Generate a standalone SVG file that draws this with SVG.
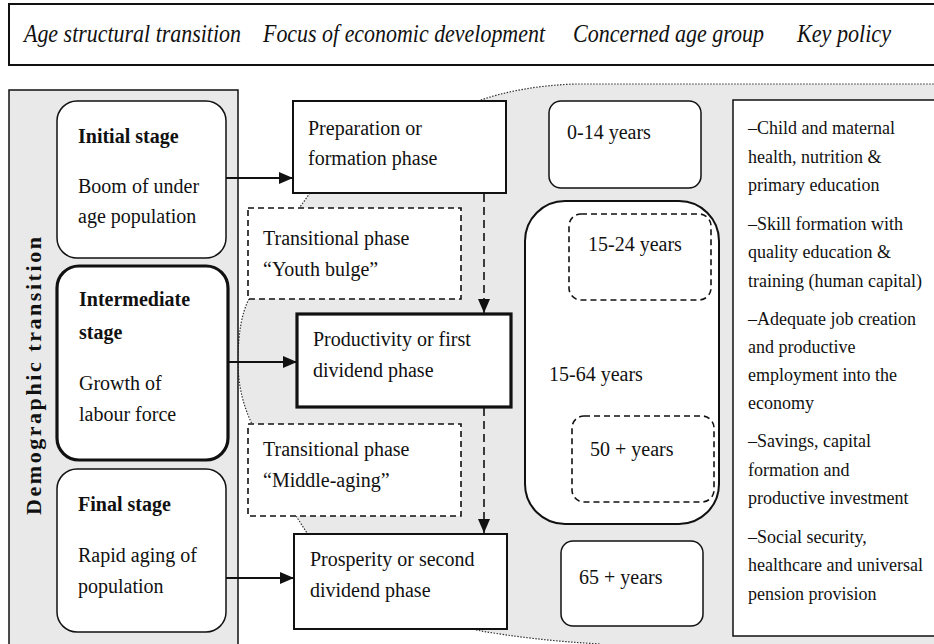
<svg xmlns="http://www.w3.org/2000/svg" width="934" height="644" viewBox="0 0 934 644">
<defs>
<marker id="ah" viewBox="0 0 14 12" refX="14" refY="6" markerWidth="14" markerHeight="12" markerUnits="userSpaceOnUse" orient="auto">
<path d="M0,0 L14,6 L0,12 Z" fill="#111"/>
</marker>
</defs>
<style>
text{font-family:"Liberation Serif","Times New Roman",serif;fill:#111;}
.hd{font-size:25px;font-style:italic;}
.t{font-size:20px;}
.b{font-size:20px;font-weight:bold;}
.v{font-size:22px;font-weight:bold;}
.p{font-size:18px;}
.box{fill:#fff;stroke:#111;stroke-width:2;}
.thin{fill:#fff;stroke:#111;stroke-width:1.5;}
.thick{fill:#fff;stroke:#111;stroke-width:3.2;}
.dash{fill:#fff;stroke:#111;stroke-width:1.6;stroke-dasharray:6 4;}
.dot{fill:none;stroke:#333;stroke-width:1.2;stroke-dasharray:1.5 1.5;}
.gray{fill:#e9e9e9;}
.conn{stroke:#111;stroke-width:2;fill:none;}
.dconn{stroke:#111;stroke-width:1.6;fill:none;stroke-dasharray:8 5;}
</style>

<!-- background shading -->
<g id="shading">
<path class="gray" d="M478,101 Q520,86 575,84 L934,84 L934,644 L600,644 Q530,640 476,630 L307,533 L296,516 L252,424 Q238,395 238,362 Q238,320 249,299 L300,207 L310,193 L478,193 Z"/>
<path class="dot" d="M478,101 Q520,86 575,84 L934,84"/>
<path class="dot" d="M476,630 Q530,640 600,644"/>
<path class="dot" d="M310,193 L300,207"/>
<path class="dot" d="M249,299 Q238,320 238,362 Q238,395 252,424"/>
<path class="dot" d="M296,516 L307,533"/>
</g>

<!-- header -->
<g id="header">
<rect x="9" y="4" width="940" height="61" fill="#fff" stroke="#111" stroke-width="2"/>
<text class="hd" x="24" y="42" textLength="217" lengthAdjust="spacingAndGlyphs">Age structural transition</text>
<text class="hd" x="263" y="42" textLength="282" lengthAdjust="spacingAndGlyphs">Focus of economic development</text>
<text class="hd" x="573" y="42" textLength="191" lengthAdjust="spacingAndGlyphs">Concerned age group</text>
<text class="hd" x="797" y="42" textLength="94" lengthAdjust="spacingAndGlyphs">Key policy</text>
</g>

<!-- left panel -->
<g id="panel">
<rect x="9" y="90" width="229" height="570" fill="#e9e9e9" stroke="#111" stroke-width="1.5"/>
<text class="v" transform="translate(41,376) rotate(-90)" text-anchor="middle" textLength="278" lengthAdjust="spacing">Demographic transition</text>
</g>

<g id="initial">
<rect class="thin" x="57" y="101" width="169" height="157" rx="20"/>
<text class="b" x="78" y="143">Initial stage</text>
<text class="t" x="78" y="193">Boom of under</text>
<text class="t" x="78" y="223">age population</text>
</g>
<g id="intermediate">
<rect class="thick" x="57" y="266" width="171" height="194" rx="22"/>
<text class="b" x="79" y="306">Intermediate</text>
<text class="b" x="79" y="339">stage</text>
<text class="t" x="79" y="390">Growth of</text>
<text class="t" x="79" y="421">labour force</text>
</g>
<g id="final">
<rect class="thin" x="57" y="469" width="169" height="163" rx="20"/>
<text class="b" x="78" y="511">Final stage</text>
<text class="t" x="78" y="562">Rapid aging of</text>
<text class="t" x="78" y="593">population</text>
</g>

<g id="preparation">
<rect class="box" x="293" y="101" width="213" height="92"/>
<text class="t" x="308" y="135">Preparation or</text>
<text class="t" x="308" y="165">formation phase</text>
</g>
<g id="youth">
<rect class="dash" x="248" y="208" width="213" height="91"/>
<text class="t" x="263" y="245">Transitional phase</text>
<text class="t" x="263" y="276">“Youth bulge”</text>
</g>
<g id="productivity">
<rect class="thick" x="297" y="314" width="214" height="93"/>
<text class="t" x="313" y="346">Productivity or first</text>
<text class="t" x="313" y="377">dividend phase</text>
</g>
<g id="middleaging">
<rect class="dash" x="248" y="424" width="213" height="92"/>
<text class="t" x="263" y="456">Transitional phase</text>
<text class="t" x="263" y="487">“Middle-aging”</text>
</g>
<g id="prosperity">
<rect class="box" x="294" y="534" width="213" height="95"/>
<text class="t" x="310" y="566">Prosperity or second</text>
<text class="t" x="310" y="597">dividend phase</text>
</g>

<g id="age0_14">
<rect class="thin" x="549" y="101" width="152" height="87" rx="12"/>
<text class="t" x="567" y="139">0-14 years</text>
</g>
<g id="age15_64">
<rect class="box" x="525" y="201" width="194" height="323" rx="40"/>
<text class="t" x="549" y="381">15-64 years</text>
</g>
<g id="age15_24">
<rect class="dash" x="569" y="214" width="142" height="86" rx="12"/>
<text class="t" x="588" y="251">15-24 years</text>
</g>
<g id="age50">
<rect class="dash" x="572" y="416" width="142" height="86" rx="12"/>
<text class="t" x="590" y="456">50 + years</text>
</g>
<g id="age65">
<rect class="thin" x="561" y="541" width="142" height="85" rx="12"/>
<text class="t" x="579" y="584">65 + years</text>
</g>

<g id="policy">
<rect class="thin" x="733" y="100" width="220" height="536"/>
<text class="p" x="748" y="134">–Child and maternal</text>
<text class="p" x="748" y="163">health, nutrition &amp;</text>
<text class="p" x="748" y="191">primary education</text>
<text class="p" x="748" y="230">–Skill formation with</text>
<text class="p" x="748" y="258">quality education &amp;</text>
<text class="p" x="748" y="287">training (human capital)</text>
<text class="p" x="748" y="325">–Adequate job creation</text>
<text class="p" x="748" y="353">and productive</text>
<text class="p" x="748" y="381">employment into the</text>
<text class="p" x="748" y="409">economy</text>
<text class="p" x="748" y="447">–Savings, capital</text>
<text class="p" x="748" y="476">formation and</text>
<text class="p" x="748" y="504">productive investment</text>
<text class="p" x="748" y="543">–Social security,</text>
<text class="p" x="748" y="571">healthcare and universal</text>
<text class="p" x="748" y="600">pension provision</text>
</g>

<g id="connectors">
<line class="conn" x1="226" y1="178" x2="293" y2="178" marker-end="url(#ah)"/>
<line class="conn" x1="228" y1="362" x2="297" y2="362" marker-end="url(#ah)"/>
<line class="conn" x1="226" y1="578" x2="294" y2="578" marker-end="url(#ah)"/>
<line class="dconn" x1="484" y1="194" x2="484" y2="313" marker-end="url(#ah)"/>
<line class="dconn" x1="484" y1="408" x2="484" y2="533" marker-end="url(#ah)"/>
</g>
</svg>
